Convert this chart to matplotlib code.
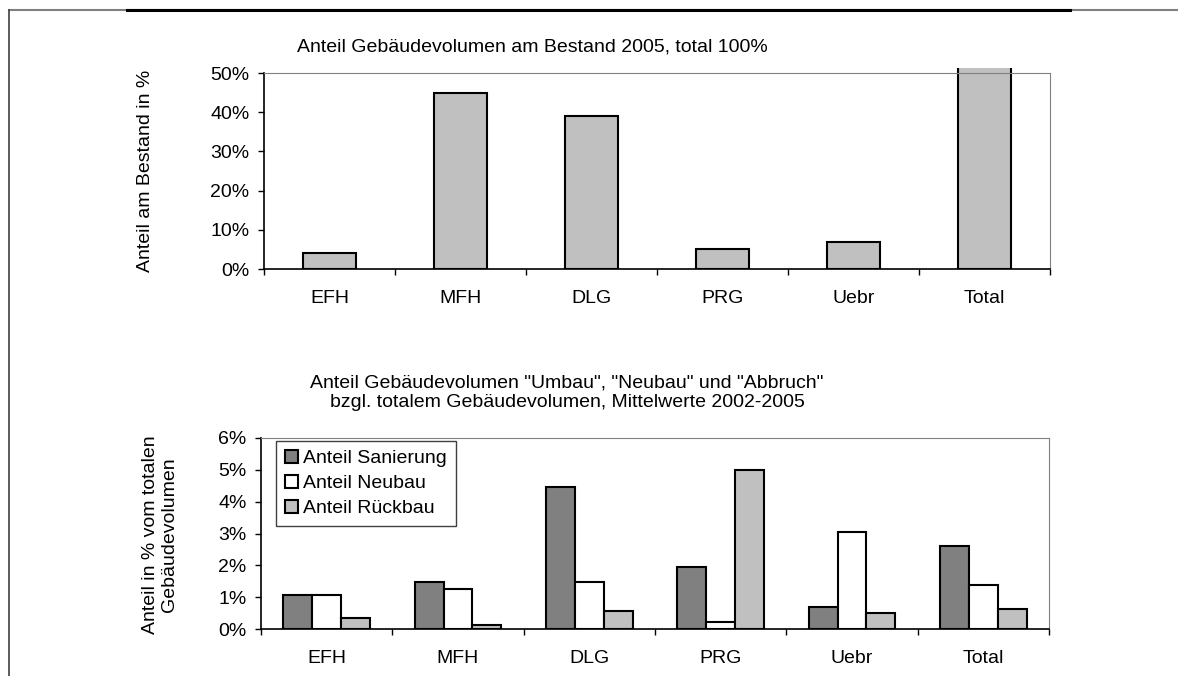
import matplotlib
matplotlib.use("Agg")
import matplotlib.pyplot as plt
import numpy as np
from matplotlib.lines import Line2D
from matplotlib.transforms import Bbox, TransformedBbox
from matplotlib.ticker import FixedLocator, NullFormatter, FuncFormatter

plt.rcParams['font.family'] = ['Liberation Sans', 'DejaVu Sans']

# data
kategorien = ["EFH", "MFH", "DLG", "PRG", "Uebr", "Total"]
bestand = [4, 45, 39, 5, 7, 100]          # % of stock 2005
sanierung = [1.07, 1.49, 4.46, 1.96, 0.70, 2.60]
neubau = [1.07, 1.26, 1.47, 0.22, 3.04, 1.39]
rueckbau = [0.33, 0.11, 0.57, 5.00, 0.49, 0.63]

FS = 14
W, H = 1178, 676
fig = plt.figure(figsize=(W / 100, H / 100), dpi=100, facecolor='w')

def px_axes(l, t, r, b):
    return fig.add_axes([l / W, 1 - b / H, (r - l) / W, (b - t) / H])

def style_axes(ax, ymax, ystep):
    ax.set_xlim(0, len(kategorien))
    ax.set_ylim(0, ymax)
    ax.spines['top'].set_color('#808080')
    ax.spines['right'].set_color('#808080')
    for s in ['left', 'bottom']:
        ax.spines[s].set_color('black')
        ax.spines[s].set_linewidth(1.2)
    ax.xaxis.set_major_locator(FixedLocator(np.arange(len(kategorien) + 1)))
    ax.xaxis.set_major_formatter(NullFormatter())
    ax.xaxis.set_minor_locator(FixedLocator(np.arange(len(kategorien)) + 0.5))
    ax.set_xticklabels(kategorien, minor=True)
    ax.tick_params(axis='x', which='major', direction='out', length=4.5, width=1)
    ax.tick_params(axis='x', which='minor', length=0, pad=15, labelsize=FS)
    ax.set_yticks(np.arange(0, ymax + 0.001, ystep))
    ax.yaxis.set_major_formatter(FuncFormatter(lambda v, p: f"{v:.0f}%"))
    ax.tick_params(axis='y', direction='out', length=4.5, width=1, pad=6, labelsize=FS)

x = np.arange(len(kategorien)) + 0.5

# top chart
ax1 = px_axes(264, 73, 1050, 269)
style_axes(ax1, 50, 10)
bars = ax1.bar(x, bestand, width=0.41, color='#c0c0c0', edgecolor='black', linewidth=1.5)
clip = TransformedBbox(Bbox([[-0.1, 0], [1.1, 1.027]]), ax1.transAxes)
for b in bars:
    b.set_clip_box(clip)
fig.text(532 / W, 1 - 47 / H, "Anteil Gebäudevolumen am Bestand 2005, total 100%",
         ha='center', va='center', fontsize=FS)
fig.text(145 / W, 1 - 171 / H, "Anteil am Bestand in %", rotation=90,
         ha='center', va='center', fontsize=FS)

# bottom chart
ax2 = px_axes(261, 438, 1049, 629)
style_axes(ax2, 6, 1)
bw = 0.22
ax2.bar(x - bw, sanierung, width=bw, color='#808080', edgecolor='black', linewidth=1.5,
        label='Anteil Sanierung')
ax2.bar(x, neubau, width=bw, color='white', edgecolor='black', linewidth=1.5,
        label='Anteil Neubau')
ax2.bar(x + bw, rueckbau, width=bw, color='#c0c0c0', edgecolor='black', linewidth=1.5,
        label='Anteil Rückbau')
leg = ax2.legend(loc='upper left', bbox_to_anchor=(0.019, 0.984), borderaxespad=0,
                 fontsize=FS, fancybox=False, framealpha=1, edgecolor='#404040',
                 handlelength=0.7, handleheight=0.7, handletextpad=0.25,
                 labelspacing=0.38, borderpad=0.45)
leg.get_frame().set_linewidth(1.0)
fig.text(567 / W, 1 - 393 / H,
         'Anteil Gebäudevolumen "Umbau", "Neubau" und "Abbruch"\nbzgl. totalem Gebäudevolumen, Mittelwerte 2002-2005',
         ha='center', va='center', fontsize=FS, linespacing=1.2)
fig.text(160 / W, 1 - 535 / H, "Anteil in % vom totalen\nGebäudevolumen", rotation=90,
         ha='center', va='center', fontsize=FS, multialignment='center', linespacing=1.2)

# page frame lines
fig.add_artist(Line2D([9 / W, 1], [1 - 9.5 / H] * 2, color='#808080', lw=1.5))
fig.add_artist(Line2D([127 / W, 1070 / W], [1 - 10 / H] * 2, color='black', lw=2.2))
fig.add_artist(Line2D([9 / W, 9 / W], [0, 1 - 9.5 / H], color='#404040', lw=1.2))

fig.savefig("out.png", dpi=100)
